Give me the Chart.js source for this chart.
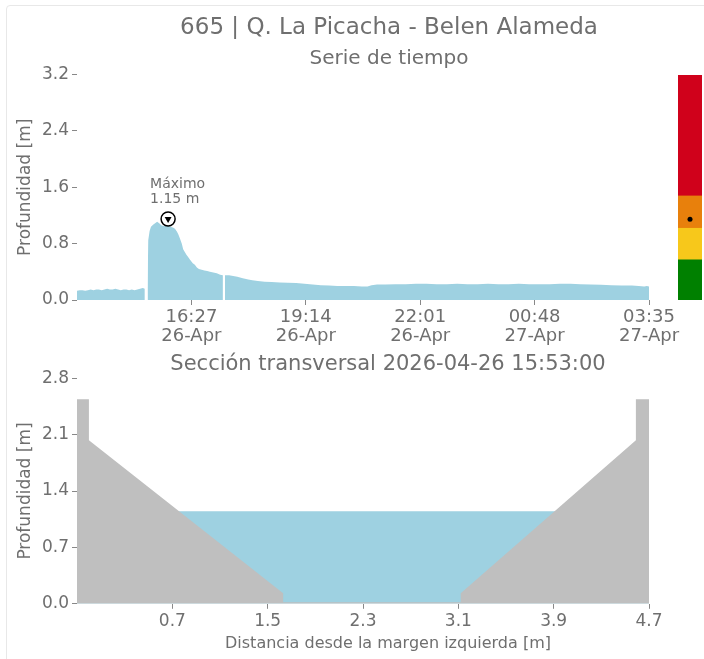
<!DOCTYPE html>
<html>
<head>
<meta charset="utf-8">
<script src="https://cdn.jsdelivr.net/npm/chart.js@4.4.0/dist/chart.umd.min.js"></script>
<style>
body{margin:0;background:#fff;width:704px;height:659px;position:relative;overflow:hidden;}
#marco{position:absolute;left:6px;top:5px;width:800px;height:800px;border:1px solid #e8e8e8;border-radius:4px;}
canvas{position:absolute;}
#serie{left:0;top:0;}
#niveles{left:678px;top:75px;}
#seccion{left:0;top:340px;}
</style>
</head>
<body>
<div id="marco"></div>
<canvas id="serie" width="778" height="350"></canvas>
<canvas id="niveles" width="24" height="225"></canvas>
<canvas id="seccion" width="776" height="319"></canvas>
<script>
// ---- datos ----
const estacion = '665 | Q. La Picacha - Belen Alameda';
const inicio = '13:40';

const horas = [
  '13:40','13:44','13:48','13:52','13:56','14:00','14:04','14:08','14:12','14:16',
  '14:20','14:24','14:28','14:32','14:36','14:40','14:44','14:48','14:52','14:56',
  '15:00','15:04','15:08','15:12','15:16','15:19','15:21','15:23','15:24','15:26',
  '15:28','15:31','15:34','15:37','15:40','15:43','15:46','15:49','15:53','15:56',
  '16:00','16:03','16:06','16:08','16:10','16:13','16:15','16:18','16:20','16:23',
  '16:25','16:29','16:32','16:35','16:38','16:42','16:46','16:50','16:54','16:59',
  '17:04','17:09','17:13','17:14','17:16','17:22','17:28','17:34','17:42','17:50',
  '17:56','18:04','18:14','18:24','18:36','18:48','19:00','19:12','19:24','19:36',
  '19:48','20:00','20:12','20:24','20:36','20:44','20:50','20:58','21:10','21:25',
  '21:40','21:55','22:10','22:25','22:40','22:55','23:10','23:25','23:40','23:55',
  '00:10','00:25','00:40','00:55','01:10','01:25','01:40','01:55','02:10','02:25',
  '02:40','02:55','03:10','03:20','03:28','03:32','03:35'
];
const profundidad = [
  0.13, 0.14, 0.14, 0.13, 0.14, 0.15, 0.14, 0.15, 0.15, 0.14,
  0.15, 0.16, 0.15, 0.15, 0.16, 0.15, 0.14, 0.15, 0.15, 0.14,
  0.15, 0.14, 0.15, 0.16, 0.17, 0.16, null, 0.17, 0.85, 0.98,
  1.04, 1.07, 1.09, 1.11, 1.09, 1.06, 1.05, 1.07, 1.06, 1.04,
  1.03, 1.01, 0.97, 0.93, 0.88, 0.80, 0.72, 0.67, 0.64, 0.60,
  0.57, 0.52, 0.50, 0.46, 0.44, 0.43, 0.42, 0.41, 0.40, 0.39,
  0.38, 0.36, 0.35, null, 0.35, 0.35, 0.34, 0.33, 0.31, 0.29,
  0.28, 0.27, 0.26, 0.255, 0.25, 0.245, 0.24, 0.23, 0.22, 0.21,
  0.205, 0.20, 0.20, 0.20, 0.19, 0.19, 0.21, 0.22, 0.22, 0.225,
  0.225, 0.23, 0.23, 0.225, 0.225, 0.23, 0.225, 0.225, 0.23, 0.225,
  0.225, 0.23, 0.225, 0.225, 0.225, 0.23, 0.23, 0.225, 0.22, 0.215,
  0.21, 0.205, 0.205, 0.20, 0.19, 0.20, 0.19
];

const horaMaximo = '15:53';
const maximo = 1.15;

const ticksHora = ['16:27', '19:14', '22:01', '00:48', '03:35'];
const ticksFecha = ['26-Apr', '26-Apr', '26-Apr', '27-Apr', '27-Apr'];
const ticksProf = [0, 0.8, 1.6, 2.4, 3.2];

// semaforo de niveles (limites en m)
const umbrales = [0, 0.57, 1.02, 1.48, 3.2];
const coloresNivel = ['#008000', '#f7c81b', '#e8800c', '#d0011b'];

// seccion transversal
const fechaSeccion = '2026-04-26 15:53:00';
const distancia = [-0.1, 0.0, 0.0, 1.63, 1.63, 3.12, 3.12, 4.59, 4.59, 4.7];
const terreno   = [2.54, 2.54, 2.03, 0.13, 0.02, 0.02, 0.13, 2.03, 2.54, 2.54];
const nivelAgua = 1.15;
const ticksDist = [0.7, 1.5, 2.3, 3.1, 3.9, 4.7];
const ticksSecc = [0, 0.7, 1.4, 2.1, 2.8];

// ---- estilos ----
const gris = '#6f6f6f';
const azul = '#9ed1e1';
Chart.defaults.font.family = "'DejaVu Sans', sans-serif";
Chart.defaults.color = gris;
Chart.defaults.animation = false;

function aMinutos(h) {
  const [hh, mm] = h.split(':').map(Number);
  const [h0, m0] = inicio.split(':').map(Number);
  let m = hh * 60 + mm - (h0 * 60 + m0);
  if (m < 0) m += 1440;
  return m;
}

const ejeY = (ticks, max) => ({
  min: 0, max: max,
  afterBuildTicks: a => { a.ticks = ticks.map(v => ({value: v})); },
  afterFit: a => { a.width = 77; },
  ticks: {font: {size: 17}, padding: 3, callback: v => v.toFixed(1)},
  grid: {drawOnChartArea: false, tickLength: 5, tickColor: '#888'},
  border: {display: false},
  title: {display: true, text: 'Profundidad [m]', font: {size: 17}, padding: {top: 15, bottom: 0}}
});

const relleno = w => ({
  position: 'right', display: true,
  afterFit: a => { a.width = w; },
  ticks: {display: false}, grid: {display: false}, border: {display: false}
});

// ---- serie de tiempo ----
const puntos = horas.map((h, i) => ({x: aMinutos(h), y: profundidad[i]}));
const pMax = [{x: aMinutos(horaMaximo), y: maximo}];

const etiquetaMaximo = {
  id: 'etiquetaMaximo',
  afterDatasetsDraw(chart) {
    const {ctx, scales} = chart;
    const x = scales.x.getPixelForValue(pMax[0].x);
    const y = scales.y.getPixelForValue(pMax[0].y);
    ctx.save();
    ctx.fillStyle = gris;
    ctx.font = "14px 'DejaVu Sans'";
    ctx.textAlign = 'left';
    ctx.textBaseline = 'alphabetic';
    ctx.fillText('Máximo', x - 18, y - 31);
    ctx.fillText(maximo.toFixed(2) + ' m', x - 18, y - 16);
    ctx.restore();
  }
};

new Chart(document.getElementById('serie'), {
  type: 'line',
  data: {
    datasets: [
      {type: 'scatter', data: pMax, pointStyle: 'triangle', rotation: 180, pointRadius: 4,
       backgroundColor: '#000', borderColor: '#000', borderWidth: 0},
      {type: 'scatter', data: pMax, pointStyle: 'circle', pointRadius: 7,
       backgroundColor: '#fff', borderColor: '#000', borderWidth: 1.5},
      {data: puntos, fill: 'origin', backgroundColor: azul, borderWidth: 0,
       pointRadius: 0, spanGaps: false, tension: 0}
    ]
  },
  options: {
    responsive: false,
    devicePixelRatio: 1,
    layout: {padding: 0, autoPadding: false},
    plugins: {
      legend: {display: false},
      tooltip: {enabled: false},
      title: {display: true, text: estacion, color: gris, font: {size: 23, weight: 'normal'},
              padding: {top: 14, bottom: 1}},
      subtitle: {display: true, text: 'Serie de tiempo', color: gris, font: {size: 20},
                 padding: {top: 4, bottom: 4}}
    },
    scales: {
      x: {
        type: 'linear', min: 0, max: aMinutos(ticksHora[ticksHora.length - 1]),
        afterBuildTicks: a => { a.ticks = ticksHora.map(h => ({value: aMinutos(h)})); },
        afterFit: a => { a.height = 50; },
        ticks: {font: {size: 18, lineHeight: 1.1}, padding: 2, maxRotation: 0,
                callback: (v, i) => [ticksHora[i], ticksFecha[i]]},
        grid: {drawOnChartArea: false, tickLength: 5, tickColor: '#888'},
        border: {display: false}
      },
      y: ejeY(ticksProf, 3.2),
      pad: relleno(129)
    }
  },
  plugins: [etiquetaMaximo]
});

// ---- barra de niveles ----
const bandas = coloresNivel.map((c, i) => ({
  type: 'bar', data: [[umbrales[i], umbrales[i + 1]]], backgroundColor: c,
  barPercentage: 1, categoryPercentage: 1, grouped: false, borderWidth: 0
}));

new Chart(document.getElementById('niveles'), {
  type: 'bar',
  data: {
    labels: [''],
    datasets: [
      {type: 'line', data: [nivelAgua], showLine: false, pointRadius: 2.5,
       backgroundColor: '#000', borderColor: '#000', borderWidth: 0}
    ].concat(bandas)
  },
  options: {
    responsive: false,
    devicePixelRatio: 1,
    layout: {padding: 0, autoPadding: false},
    plugins: {legend: {display: false}, tooltip: {enabled: false}},
    scales: {
      x: {display: false},
      y: {display: false, min: 0, max: 3.2}
    }
  }
});

// ---- seccion transversal ----
const perfil = distancia.map((d, i) => ({x: d, y: terreno[i]}));
const agua = [{x: distancia[0], y: nivelAgua}, {x: distancia[distancia.length - 1], y: nivelAgua}];

new Chart(document.getElementById('seccion'), {
  type: 'line',
  data: {
    datasets: [
      {data: perfil, fill: 'origin', backgroundColor: '#bfbfbf', borderWidth: 0, pointRadius: 0, tension: 0},
      {data: agua, fill: 'origin', backgroundColor: azul, borderWidth: 0, pointRadius: 0}
    ]
  },
  options: {
    responsive: false,
    devicePixelRatio: 1,
    layout: {padding: 0, autoPadding: false},
    plugins: {
      legend: {display: false},
      tooltip: {enabled: false},
      title: {display: true, text: 'Sección transversal ' + fechaSeccion, color: gris,
              font: {size: 21, weight: 'normal'}, padding: {top: 12, bottom: 1}},
      subtitle: {display: true, position: 'bottom', text: 'Distancia desde la margen izquierda [m]',
                 color: gris, font: {size: 16}, padding: {top: 0, bottom: 6}}
    },
    scales: {
      x: {
        type: 'linear', min: -0.1, max: 4.7,
        afterBuildTicks: a => { a.ticks = ticksDist.map(v => ({value: v})); },
        afterFit: a => { a.height = 30; },
        ticks: {font: {size: 17}, padding: 3, maxRotation: 0, callback: v => v.toFixed(1)},
        grid: {drawOnChartArea: false, tickLength: 5, tickColor: '#888'},
        border: {display: false}
      },
      y: ejeY(ticksSecc, 2.8),
      pad: relleno(127)
    }
  }
});
</script>
</body>
</html>
